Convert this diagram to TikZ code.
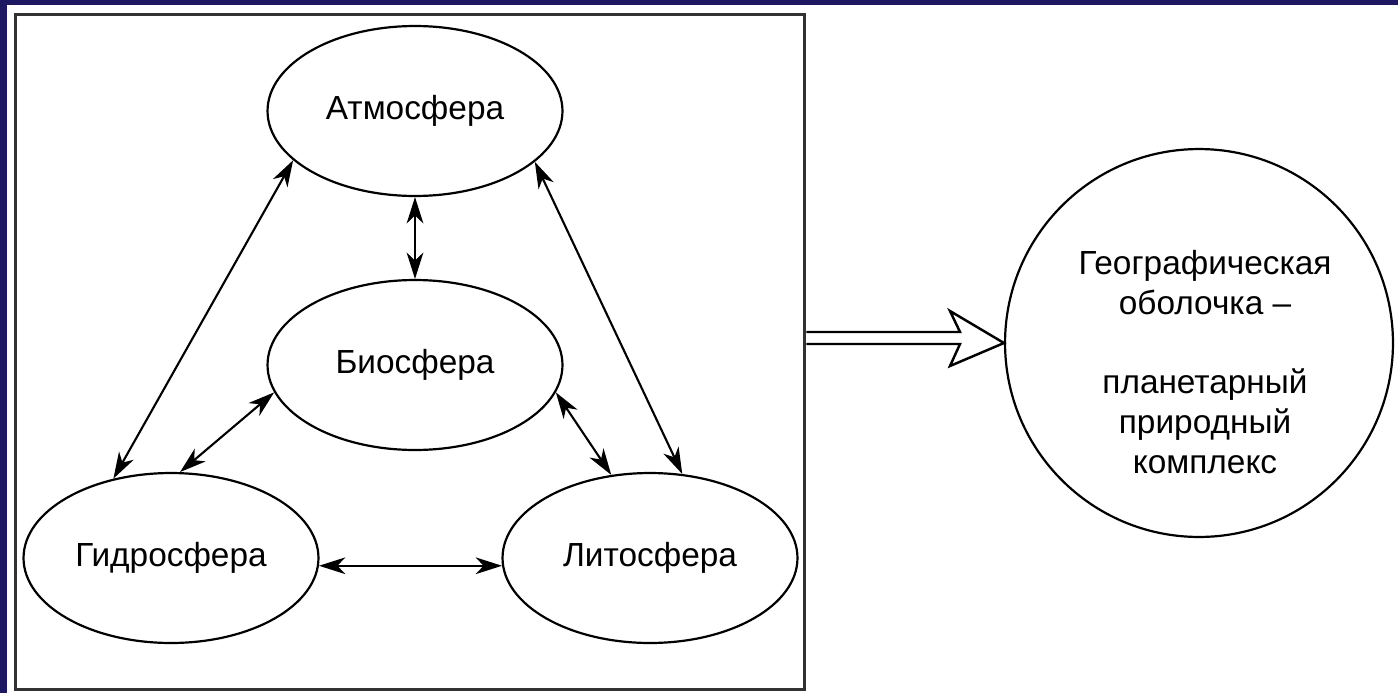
\documentclass[tikz,border=0pt]{standalone}
\usepackage{fontspec}
\setmainfont{Liberation Sans}
\usetikzlibrary{shapes.geometric}
\usetikzlibrary{arrows.meta}
\definecolor{navy}{RGB}{30,23,98}
\definecolor{framegray}{RGB}{50,50,50}

\begin{document}
\begin{tikzpicture}[
x=0.02cm, y=-0.02cm,
sphere/.style = {ellipse, draw, line width=1.25pt,
            minimum width=5.9cm, minimum height=3.4cm,
            inner sep=0pt, font=\fontsize{19}{23}\selectfont},
shell/.style = {circle, draw, line width=1.25pt, minimum size=7.76cm},
frame/.style = {draw=framegray, line width=1.7pt,
            minimum width=15.8cm, minimum height=13.52cm},
link/.style = {{Stealth[length=15pt,width=9.5pt,inset=4.5pt]}-{Stealth[length=15pt,width=9.5pt,inset=4.5pt]},
            line width=1.2pt},
bigarrow/.style = {line width=1.4pt, line join=miter}
                ]
    \useasboundingbox (0,0) rectangle (1398,693);
    \fill[navy] (0,0) rectangle (1398,693);
    \fill[white] (7,5) rectangle (1398,693);

    \node[frame] at (410,352) (frame) {};

    % the four spheres
    \foreach \x/\y/\n/\t in {415/111/atm/Атмосфера, 415/365/bio/Биосфера,
                             171/558/hyd/Гидросфера, 650/558/lit/Литосфера}
        \node[sphere] at (\x,\y) (\n) {\t};

    \draw[link] (atm.south) -- (bio.north);
    \draw[link] (atm.202) -- (hyd.126);
    \draw[link] (atm.337) -- (lit.69);
    \draw[link] (bio.191) -- (hyd.84);
    \draw[link] (bio.349) -- (lit.115);
    \draw[link] (hyd.-3) -- (lit.183);

    \node[shell] at (1199,343) (geo) {};
    \node[align=center, font=\fontsize{19}{22.7}\selectfont] at (1205,362) (geotext)
        {Географическая\\оболочка --\\ \\планетарный\\природный\\комплекс};

    \draw[bigarrow] (frame.east |- 0,332) -- (960,332) -- (950,311) -- (geo.west)
        -- (950,366) -- (960,344) -- (frame.east |- 0,344);
\end{tikzpicture}
\end{document}
